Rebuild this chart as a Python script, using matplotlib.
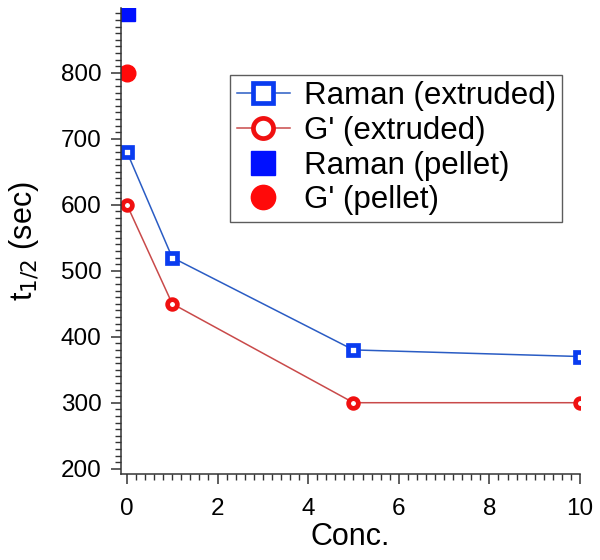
import matplotlib
matplotlib.use("Agg")
import matplotlib.pyplot as plt
from matplotlib import rcParams
from matplotlib.ticker import MultipleLocator

rcParams["font.family"] = ["Liberation Sans", "DejaVu Sans"]

# data
conc = [0, 1, 5, 10]
raman_extruded = [680, 520, 380, 370]
gprime_extruded = [600, 450, 300, 300]
pellet_conc = [0]
raman_pellet = [890]
gprime_pellet = [800]

BLUE_LINE = "#2a5cc4"
BLUE_MK = "#0a3cf0"
RED_LINE = "#c94a4a"
RED_MK = "#f01010"

fig = plt.figure(figsize=(6.0, 5.6), dpi=100)
ax = fig.add_axes([0.2017, 0.1536, 0.765, 0.832])

ax.plot(conc, raman_extruded, color=BLUE_LINE, lw=1.1, marker="s", ms=6.5,
        mfc="white", mec=BLUE_MK, mew=3.4, label="Raman (extruded)")
ax.plot(conc, gprime_extruded, color=RED_LINE, lw=1.1, marker="o", ms=7,
        mfc="white", mec=RED_MK, mew=3.4, label="G' (extruded)")
ax.plot(pellet_conc, raman_pellet, ls="none", marker="s", ms=11,
        color="#0010ff", mec="#0010ff", label="Raman (pellet)")
ax.plot(pellet_conc, gprime_pellet, ls="none", marker="o", ms=12,
        color="#ff0a0a", mec="#ff0a0a", label="G' (pellet)")

ax.set_xlim(-0.13, 10)
ax.set_ylim(192, 898)
ax.xaxis.set_major_locator(MultipleLocator(2))
ax.xaxis.set_minor_locator(MultipleLocator(0.2))
ax.yaxis.set_major_locator(MultipleLocator(100))
ax.yaxis.set_minor_locator(MultipleLocator(10))
ax.set_yticks([200, 300, 400, 500, 600, 700, 800])

for s in ("top", "right"):
    ax.spines[s].set_visible(False)
for s in ("left", "bottom"):
    ax.spines[s].set_linewidth(1.1)
    ax.spines[s].set_color("#333333")

ax.tick_params(which="major", direction="out", length=7, width=1.1,
               labelsize=17.5, color="#333333")
ax.tick_params(axis="x", which="major", pad=10)
ax.tick_params(axis="y", which="major", pad=7)
ax.tick_params(which="minor", direction="out", length=4, width=1.0,
               color="#333333")

ax.set_xlabel("Conc.", fontsize=22, labelpad=2)
ax.set_ylabel("t$_{1/2}$ (sec)", fontsize=22, labelpad=14)

leg = ax.legend(loc="upper right", bbox_to_anchor=(0.937, 0.866),
                bbox_transform=fig.transFigure, fontsize=22.5,
                handlelength=1.7, handletextpad=0.45, labelspacing=0.15,
                borderpad=0.2, borderaxespad=0, frameon=True, fancybox=False)
leg.get_frame().set_edgecolor("#333333")
leg.get_frame().set_linewidth(1.0)
for h, ms in zip(leg.legend_handles, [14, 14.5, 17, 17.5]):
    h.set_markersize(ms)

fig.savefig("out.png", dpi=100)
